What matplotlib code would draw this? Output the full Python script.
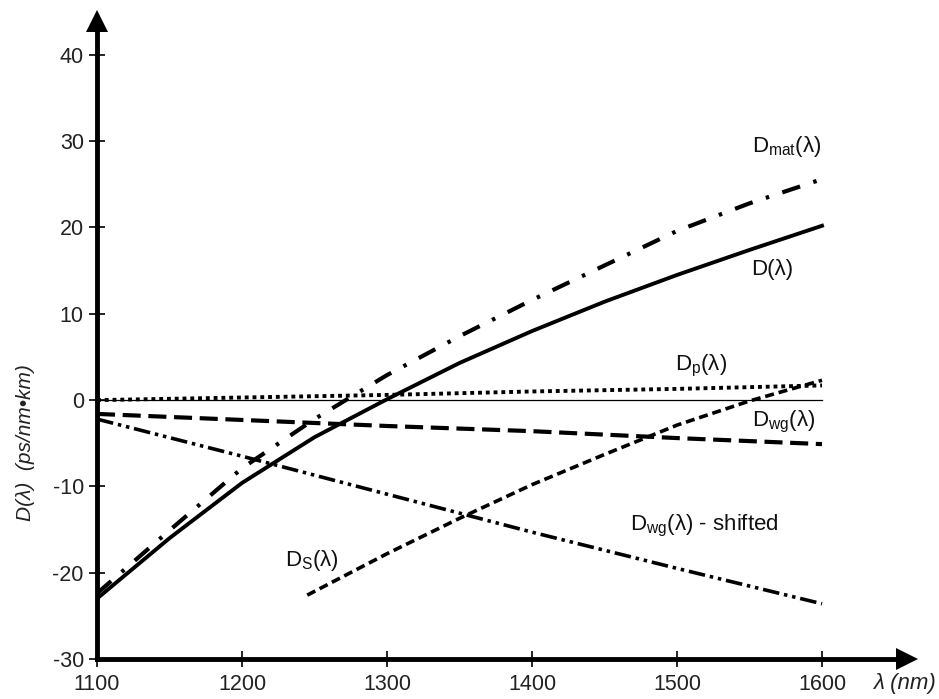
import matplotlib
matplotlib.use("Agg")
import matplotlib.pyplot as plt

plt.rcParams['font.family'] = ['Liberation Sans', 'DejaVu Sans']
plt.rcParams['mathtext.fontset'] = 'custom'
plt.rcParams['mathtext.rm'] = 'Liberation Sans'
plt.rcParams['mathtext.it'] = 'Liberation Sans:italic'
plt.rcParams['lines.scale_dashes'] = False

# ---- data ----
wl = [1100, 1150, 1200, 1250, 1300, 1350, 1400, 1450, 1500, 1550, 1600]
D_total = [-23.0, -16.0, -9.6, -4.3, 0.1, 4.3, 8.0, 11.4, 14.5, 17.4, 20.2]
D_mat = [-22.4, -15.1, -7.9, -2.2, 2.9, 7.4, 11.6, 15.6, 19.6, 22.8, 25.6]

wl_b = [1100, 1200, 1300, 1400, 1500, 1600]
D_p = [0.0, 0.3, 0.6, 1.0, 1.3, 1.7]
D_wg = [-1.6, -2.3, -3.0, -3.6, -4.4, -5.1]
D_wg_shift = [-2.2, -6.5, -10.9, -15.3, -19.5, -23.6]

wl_s = [1245, 1300, 1350, 1400, 1450, 1500, 1550, 1600]
D_s = [-22.6, -17.8, -13.7, -9.8, -6.3, -2.9, -0.1, 2.3]

x_ticks = [1100, 1200, 1300, 1400, 1500, 1600]
y_ticks = [-30, -20, -10, 0, 10, 20, 30, 40]

labels = {
    'mat': (r'D$_{\mathrm{mat}}$(λ)', 1551.7, 28.8),
    'D': ('D(λ)', 1551.0, 14.5),
    'p': (r'D$_{\mathrm{p}}$(λ)', 1498.6, 3.4),
    'wg': (r'D$_{\mathrm{wg}}$(λ)', 1551.7, -3.1),
    'wgs': (r'D$_{\mathrm{wg}}$(λ) - shifted', 1467.6, -15.1),
    'S': (r'D$_{\mathrm{S}}$(λ)', 1229.7, -19.2),
}

W, H = 939, 699
fig = plt.figure(figsize=(W / 100, H / 100), dpi=100)
left_px, right_px, top_px, bot_px = 97, 907, 21, 659
ax = fig.add_axes([left_px / W, (H - bot_px) / H,
                   (right_px - left_px) / W, (bot_px - top_px) / H])
xpp = 1.45
ypp = 8.63
ax.set_xlim(1100, 1100 + (right_px - left_px) / xpp)
ax.set_ylim(-30, -30 + (bot_px - top_px) / ypp)

# zero line
ax.plot([1100, 1600], [0, 0], color='black', lw=0.9)

ax.plot(wl, D_total, color='black', lw=2.8, ls='-')
ax.plot(wl, D_mat, color='black', lw=3.0, ls=(0, (13.5, 10, 2.5, 10)))
ax.plot(wl_b, D_p, color='black', lw=2.8, ls=(0, (2.8, 2.8)))
ax.plot(wl_b, D_wg, color='black', lw=3.0, ls=(0, (13, 5.5)))
ax.plot(wl_b, D_wg_shift, color='black', lw=2.6,
        ls=(0, (12, 3.5, 2.5, 3.5, 2.5, 3.5)))
ax.plot(wl_s, D_s, color='black', lw=2.6, ls=(0, (6.5, 3.5)))

for txt, x, y in labels.values():
    ax.text(x, y, txt, fontsize=16, color='#111111', ha='left', va='baseline')

# spines
for s in ['top', 'right']:
    ax.spines[s].set_visible(False)
for s in ['left', 'bottom']:
    ax.spines[s].set_linewidth(3.5)
    ax.spines[s].set_color('black')

ax.set_xticks(x_ticks)
ax.set_yticks(y_ticks)
ax.set_xticklabels([str(v) for v in x_ticks])
ax.set_yticklabels([str(v) for v in y_ticks])
ax.tick_params(axis='both', direction='inout', length=11, width=1.2,
               labelsize=15.5, colors='black', labelcolor='#222222')
ax.tick_params(axis='x', pad=5)
ax.tick_params(axis='y', pad=4)

# arrow heads
ax.plot([0], [1], marker='^', markersize=16, color='black', mew=0,
        transform=ax.transAxes, clip_on=False)
ax.plot([1], [0], marker='>', markersize=16, color='black', mew=0,
        transform=ax.transAxes, clip_on=False)

fig.text(26 / W, 1 - 443 / H, 'D(λ)  (ps/nm•km)', rotation=90, style='italic',
         fontsize=15, ha='center', va='center', color='#222222')
fig.text(904 / W, 1 - 683 / H, 'λ (nm)', style='italic', fontsize=16,
         ha='center', va='center', color='#222222')

fig.savefig('out.png', dpi=100)
